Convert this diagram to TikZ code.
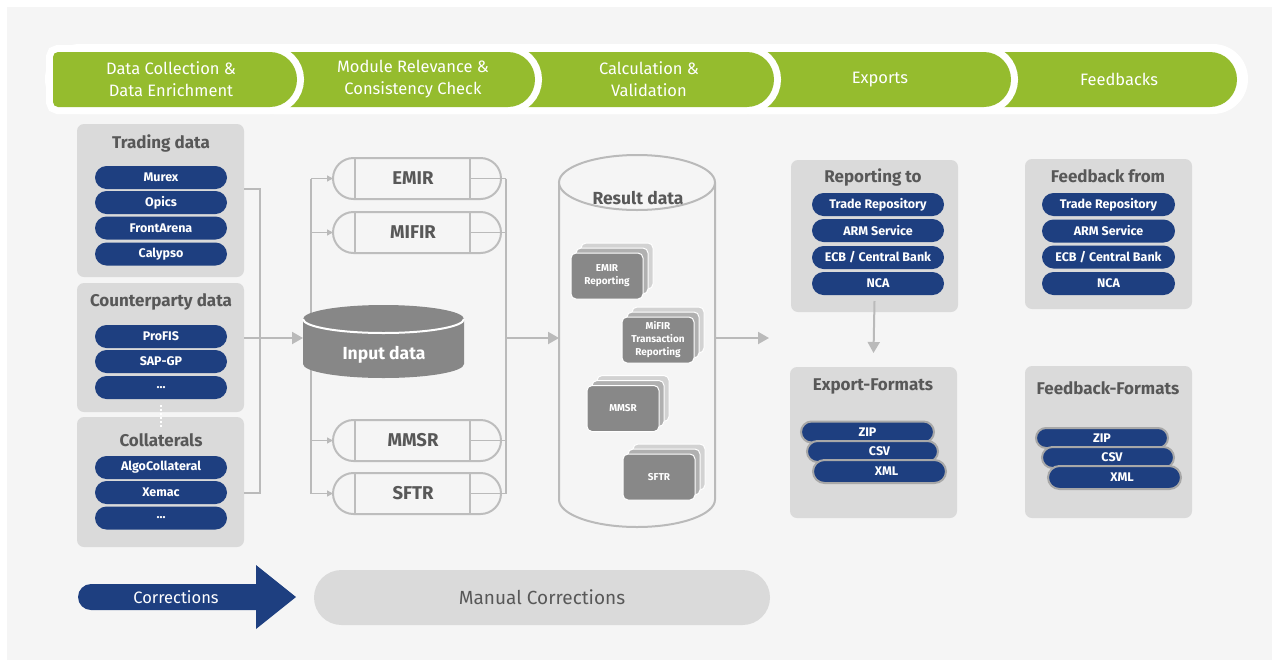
\documentclass[tikz,border=0pt]{standalone}
\usepackage{fontspec}
\setmainfont{Fira Sans}
\usetikzlibrary{calc,arrows.meta}
\definecolor{panel}{HTML}{F5F5F5}
\definecolor{lime}{HTML}{95BC2E}
\definecolor{navy}{HTML}{1E3F80}
\definecolor{boxgray}{HTML}{DADADA}
\definecolor{titlegray}{HTML}{585858}
\definecolor{linegray}{HTML}{BABABA}
\definecolor{modgray}{HTML}{BDBDBD}
\definecolor{pillrim}{HTML}{A8A8A8}
\definecolor{cyldark}{HTML}{878787}
\definecolor{cardA}{HTML}{888888}
\definecolor{cardB}{HTML}{B0B0B0}
\definecolor{cardC}{HTML}{D2D2D2}
\newcommand\phaseseg[2]{%
  \path[phase] (#1+5,52) -- (#2-27,52)
    arc[start angle=90,end angle=-90,x radius=27pt,y radius=27.5pt]
    -- (#1+5,107) arc[start angle=270,end angle=180,radius=5pt]
    -- (#1,57) arc[start angle=180,end angle=90,radius=5pt] -- cycle;}
\begin{document}
\begin{tikzpicture}[x=1pt,y=-1pt,
  graybox/.style={fill=boxgray, rounded corners=7pt, inner sep=0pt, outer sep=0pt, minimum width=167pt},
  boxtitle/.style={text=titlegray, font=\fontsize{17}{20}\selectfont\bfseries, inner sep=0pt},
  pill/.style={fill=navy, text=white, rounded corners=11.5pt, minimum width=132pt, minimum height=23pt, inner sep=0pt, font=\fontsize{12.5}{14}\selectfont\bfseries},
  fmtpill/.style={pill, draw=pillrim, line width=2pt, minimum height=21pt, rounded corners=10.5pt},
  module/.style={draw=modgray, line width=2pt, rounded corners=20.5pt, minimum width=168pt, minimum height=41pt, inner sep=0pt, outer sep=0pt},
  modline/.style={draw=modgray, line width=2pt},
  modtext/.style={text=titlegray, font=\fontsize{18.5}{20}\selectfont\bfseries, inner sep=0pt},
  conn/.style={draw=linegray, line width=2pt},
  bracket/.style={draw=linegray, line width=1.4pt},
  bigtip/.style={-{Triangle[length=11pt,width=12pt]}},
  smalltip/.style={-{Triangle[length=6pt,width=6pt]}},
  card/.style={rounded corners=5pt, draw=white, line width=1pt, minimum width=72pt, minimum height=46pt, inner sep=0pt, text=white, align=center, font=\fontsize{10}{13}\selectfont\bfseries},
  phase/.style={fill=lime, preaction={draw=white, line width=14pt}},
  phasetext/.style={text=white, font=\fontsize{16.5}{22}\selectfont, align=center, inner sep=0pt},
  hit/.style={inner sep=0pt, outer sep=0pt},
]
\useasboundingbox (0,0) rectangle (1279,667);
\fill[white] (0,0) rectangle (1279,667);
\fill[panel] (7,7) rectangle (1272,660);

% phase banner
\fill[white, rounded corners=35pt] (45,44) rectangle (1248,114);
\phaseseg{980}{1237}
\phaseseg{745}{1011}
\phaseseg{505}{774}
\phaseseg{270}{535}
\phaseseg{53}{297}
\node[phasetext] (ph1) at (171,79.5) {Data Collection \&\\Data Enrichment};
\node[phasetext] (ph2) at (413,79.5) {Module Relevance \&\\Consistency Check};
\node[phasetext] (ph3) at (649,79.5) {Calculation \&\\Validation};
\node[phasetext] (ph4) at (880,79.5) {Exports};
\node[phasetext] (ph5) at (1119,79.5) {Feedbacks};

% left sources
\node[graybox, minimum height=153pt] (trading) at (160.5,200.5) {};
\node[boxtitle] (tradingT) at (161,143) {Trading data};
\node[pill] (murex) at (161,177.5) {Murex};
\node[pill] (opics) at (161,202.5) {Opics};
\node[pill] (front) at (161,228) {FrontArena};
\node[pill] (calypso) at (161,254) {Calypso};

\node[graybox, minimum height=129pt] (cp) at (160.5,347.5) {};
\node[boxtitle] (cpT) at (161,302) {Counterparty data};
\node[pill] (profis) at (161,336.5) {ProFIS};
\node[pill] (sapgp) at (161,361.5) {SAP-GP};
\node[pill] (cpdots) at (161,387.5) {...};

\node[graybox, minimum height=130pt] (collat) at (160.5,482) {};
\node[boxtitle] (collatT) at (161,440) {Collaterals};
\node[pill] (algo) at (161,467.5) {AlgoCollateral};
\node[pill] (xemac) at (161,492.5) {Xemac};
\node[pill] (coldots) at (161,518) {...};
\draw[white, line width=2pt, dotted] ($(cp.south)+(0,-7)$) -- ($(collat.north)+(0,10)$);

% modules
\node[module] (emir) at (417,178.5) {};
\node[module] (mifir) at (417,232.5) {};
\node[module] (mmsr) at (417,440.5) {};
\node[module] (sftr) at (417,493.5) {};
\node[modtext] (emirT) at ($(emir.center)+(-4,0)$) {EMIR};
\node[modtext] (mifirT) at ($(mifir.center)+(-4,0)$) {MIFIR};
\node[modtext] (mmsrT) at ($(mmsr.center)+(-4,0)$) {MMSR};
\node[modtext] (sftrT) at ($(sftr.center)+(-4,0)$) {SFTR};
\foreach \m in {emir,mifir,mmsr,sftr}{
  \draw[bracket, smalltip] ($(\m.west)+(-22,0)$) -- (\m.west);
  \draw[bracket] ($(\m.east)+(-31,0)$) -- ($(\m.east)+(5,0)$);
  \draw[modline] ($(\m.north west)+(22,0)$) -- ($(\m.south west)+(22,0)$);
  \draw[modline] ($(\m.north east)+(-31,0)$) -- ($(\m.south east)+(-31,0)$);
}
\draw[bracket] ($(emir.west)+(-22,0)$) -- ($(sftr.west)+(-22,0)$);
\draw[bracket] ($(emir.east)+(5,0)$) -- ($(sftr.east)+(5,0)$);

% input data cylinder
\node[hit, minimum width=161pt, minimum height=73pt] (input) at (383.5,341.5) {};
\fill[cyldark] (303,319) -- (303,364)
  arc[start angle=180,end angle=360,x radius=80.5pt,y radius=14pt]
  -- (464,319) arc[start angle=0,end angle=180,x radius=80.5pt,y radius=14pt] -- cycle;
\draw[white, line width=2pt] (303,319) arc[start angle=180,end angle=360,x radius=80.5pt,y radius=14pt];
\node[text=white, font=\fontsize{17.5}{20}\selectfont\bfseries, inner sep=0pt] (inputT) at (384,355) {Input data};

% left connectors
\coordinate (trout) at ($(trading.east)+(0,-11.5)$);
\coordinate (coout) at ($(collat.east)+(0,11)$);
\coordinate (cpout) at ($(cp.east)+(0,-9.5)$);
\draw[conn] (trout) -- ++(16,0) |- (coout);
\draw[conn, bigtip] (cpout) -- (cpout -| input.west);

% result data cylinder
\node[hit, minimum width=156pt, minimum height=372pt] (result) at (637,341) {};
\draw[linegray, line width=2pt, fill=panel] (559,182.5) -- (559,499.5)
  arc[start angle=180,end angle=360,x radius=78pt,y radius=27.5pt] -- (715,182.5);
\draw[linegray, line width=2pt, fill=panel] (637,182.5) ellipse[x radius=78pt, y radius=27.5pt];
\node[boxtitle, font=\fontsize{17.5}{20}\selectfont\bfseries] (resultT) at (638,198) {Result data};

\coordinate (jx) at ($(emir.east)+(5,0)$);
\coordinate (jn) at (jx |- cpout);
\draw[conn, bigtip] (jn) -- (jn -| result.west);
\coordinate (rout) at (jn -| result.east);
\coordinate (expin) at (769,338);
\draw[conn, bigtip] (rout) -- (expin);

% stacked cards
\node[card, fill=cardC] (emirC) at (617,266) {};
\node[card, fill=cardB] (emirB) at (612,271) {};
\node[card, fill=cardA] (emirA) at (607,276) {EMIR\\Reporting};
\node[card, fill=cardC] (mifC) at (668,330) {};
\node[card, fill=cardB] (mifB) at (663,335) {};
\node[card, fill=cardA] (mifA) at (658,340) {MiFIR\\Transaction\\Reporting};
\node[card, fill=cardC] (mmsC) at (633,398.5) {};
\node[card, fill=cardB] (mmsB) at (628,403.5) {};
\node[card, fill=cardA] (mmsA) at (623,408.5) {MMSR};
\node[card, fill=cardC] (sftC) at (669,467) {};
\node[card, fill=cardB] (sftB) at (664,472) {};
\node[card, fill=cardA] (sftA) at (659,477) {SFTR};

% reporting / exports
\node[graybox, minimum height=152pt] (rep) at (874.5,236) {};
\node[boxtitle] (repT) at (873,177) {Reporting to};
\node[pill] (rtr) at (878,204.5) {Trade Repository};
\node[pill] (rarm) at (878,230.5) {ARM Service};
\node[pill] (recb) at (878,257.5) {ECB / Central Bank};
\node[pill] (rnca) at (878,283.5) {NCA};

\node[graybox, minimum height=151pt] (expf) at (873.5,442.5) {};
\node[boxtitle] (expfT) at (873,386) {Export-Formats};
\node[fmtpill, minimum width=133pt] (ezip) at (867.5,432) {ZIP};
\node[fmtpill, minimum width=131pt] (ecsv) at (872.5,451.5) {\hspace*{14pt}CSV};
\node[fmtpill, minimum width=133pt, minimum height=23pt, rounded corners=11.5pt] (exml) at (879.5,471.5) {\hspace*{14pt}XML};

\draw[conn, bigtip] ($(rep.south)+(0,-11)$) -- ($(expf.north)+(0,-14)$);

% feedback
\node[graybox, minimum height=150pt] (fb) at (1108.5,234) {};
\node[boxtitle] (fbT) at (1108,176) {Feedback from};
\node[pill, minimum width=133pt] (ftr) at (1108.5,204.5) {Trade Repository};
\node[pill, minimum width=133pt] (farm) at (1108.5,231) {ARM Service};
\node[pill, minimum width=133pt] (fecb) at (1108.5,257) {ECB / Central Bank};
\node[pill, minimum width=133pt] (fnca) at (1108.5,283.5) {NCA};

\node[graybox, minimum height=152pt] (fbf) at (1108.5,442) {};
\node[boxtitle] (fbfT) at (1108,388) {Feedback-Formats};
\node[fmtpill, minimum width=132pt, minimum height=20pt, rounded corners=10pt] (fzip) at (1102,438) {ZIP};
\node[fmtpill, minimum width=132pt] (fcsv) at (1108,457.5) {\hspace*{8pt}CSV};
\node[fmtpill, minimum width=133pt, minimum height=23pt, rounded corners=11.5pt] (fxml) at (1114.5,477.5) {\hspace*{15pt}XML};

% corrections
\fill[navy] (91,584) -- (256,584) -- (256,565) -- (296,597) -- (256,629) -- (256,610) -- (91,610)
  arc[start angle=270,end angle=90,radius=13pt] -- cycle;
\node[text=white, font=\fontsize{16.5}{20}\selectfont, inner sep=0pt] (corr) at (176,597) {Corrections};
\node[fill=boxgray, rounded corners=27.5pt, minimum width=456pt, minimum height=55pt, inner sep=0pt,
  text=titlegray, font=\fontsize{19}{22}\selectfont] (manual) at (542,597.5) {Manual Corrections};
\end{tikzpicture}
\end{document}
